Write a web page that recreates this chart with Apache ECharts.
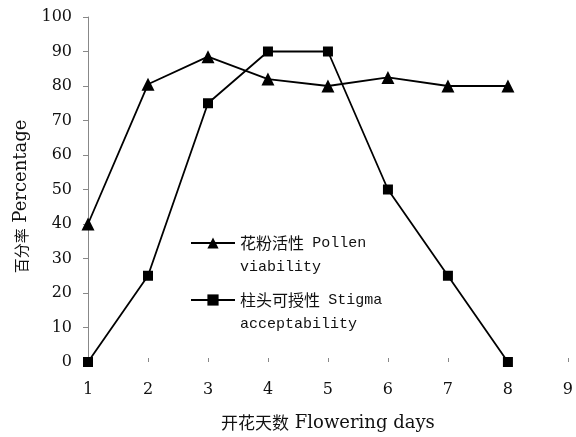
<!DOCTYPE html>
<html><head><meta charset="utf-8">
<script src="https://cdn.jsdelivr.net/npm/echarts@6/dist/echarts.min.js"></script>
<style>html,body{margin:0;padding:0;background:#fff}#c{width:576px;height:437px}</style>
</head><body><div id="c"></div>
<script>
const days = [1, 2, 3, 4, 5, 6, 7, 8];
const xTicks = [1, 2, 3, 4, 5, 6, 7, 8, 9];
const pollen = [40, 80.5, 88.5, 82, 80, 82.5, 80, 80];
const stigma = [0, 25, 75, 90, 90, 50, 25, 0];
const pollenCn = '花粉活性', pollenEn1 = 'Pollen', pollenEn2 = 'viability';
const stigmaCn = '柱头可授性', stigmaEn1 = 'Stigma', stigmaEn2 = 'acceptability';
const pollenName = pollenCn + ' ' + pollenEn1 + ' ' + pollenEn2;
const stigmaName = stigmaCn + ' ' + stigmaEn1 + ' ' + stigmaEn2;
const xNameCn = '开花天数', xNameEn = 'Flowering days';
const yNameCn = '百分率', yNameEn = 'Percentage';

const serif = '"DejaVu Serif", serif';
const cjk = '"Noto Sans CJK SC", sans-serif';
const mono = '"Liberation Mono", monospace';
const legRich = {
  cn: { fontFamily: cjk, fontSize: 16, color: '#111', lineHeight: 24 },
  en: { fontFamily: mono, fontSize: 15, color: '#111', lineHeight: 24 }
};
const legFmt = n => n === pollenName
  ? '\n{cn|' + pollenCn + '}  {en|' + pollenEn1 + '}\n{en|' + pollenEn2 + '}'
  : '\n{cn|' + stigmaCn + '}  {en|' + stigmaEn1 + '}\n{en|' + stigmaEn2 + '}';
const legBase = { orient: 'vertical', itemWidth: 44, itemHeight: 14, padding: 0, itemGap: 0,
  selectedMode: false, formatter: legFmt,
  textStyle: { lineHeight: 24, fontSize: 15, rich: legRich } };

const chart = echarts.init(document.getElementById('c'));
chart.setOption({
  animation: false,
  backgroundColor: '#fff',
  grid: { left: 88, right: 7, top: 17, bottom: 71 },
  legend: [
    Object.assign({ data: [pollenName], left: 190, top: 207 }, legBase),
    Object.assign({ data: [stigmaName], left: 190, top: 264 }, legBase)
  ],
  xAxis: {
    type: 'value', min: 1, max: 9,
    name: '{cn|' + xNameCn + '}{en| ' + xNameEn + '}', nameLocation: 'middle', nameGap: 52,
    nameTextStyle: { rich: {
      cn: { fontFamily: cjk, fontSize: 17, color: '#111' },
      en: { fontFamily: serif, fontSize: 18, color: '#111' } } },
    axisLine: { show: false },
    axisTick: { show: true, inside: true, length: 4, lineStyle: { color: '#888' }, customValues: xTicks },
    axisLabel: { fontFamily: serif, fontSize: 16, color: '#111', margin: 20, customValues: xTicks },
    splitLine: { show: false }
  },
  yAxis: {
    type: 'value', min: 0, max: 100, interval: 10,
    name: '{cn|' + yNameCn + '}{en| ' + yNameEn + '}', nameLocation: 'middle', nameGap: 56,
    nameTextStyle: { padding: [0, 14, 0, 0], rich: {
      cn: { fontFamily: cjk, fontSize: 15, color: '#111' },
      en: { fontFamily: serif, fontSize: 18, color: '#111' } } },
    axisLine: { show: true, lineStyle: { color: '#888', width: 1 } },
    axisTick: { show: true, length: 5, lineStyle: { color: '#888' } },
    axisLabel: { fontFamily: serif, fontSize: 16, color: '#111', margin: 16 },
    splitLine: { show: false }
  },
  series: [
    { name: pollenName, type: 'line', data: days.map((d, i) => [d, pollen[i]]),
      symbol: 'triangle', symbolSize: 13, lineStyle: { color: '#000', width: 1.8 },
      itemStyle: { color: '#000' } },
    { name: stigmaName, type: 'line', data: days.map((d, i) => [d, stigma[i]]),
      symbol: 'rect', symbolSize: 10, lineStyle: { color: '#000', width: 1.8 },
      itemStyle: { color: '#000' } }
  ]
});
</script></body></html>
